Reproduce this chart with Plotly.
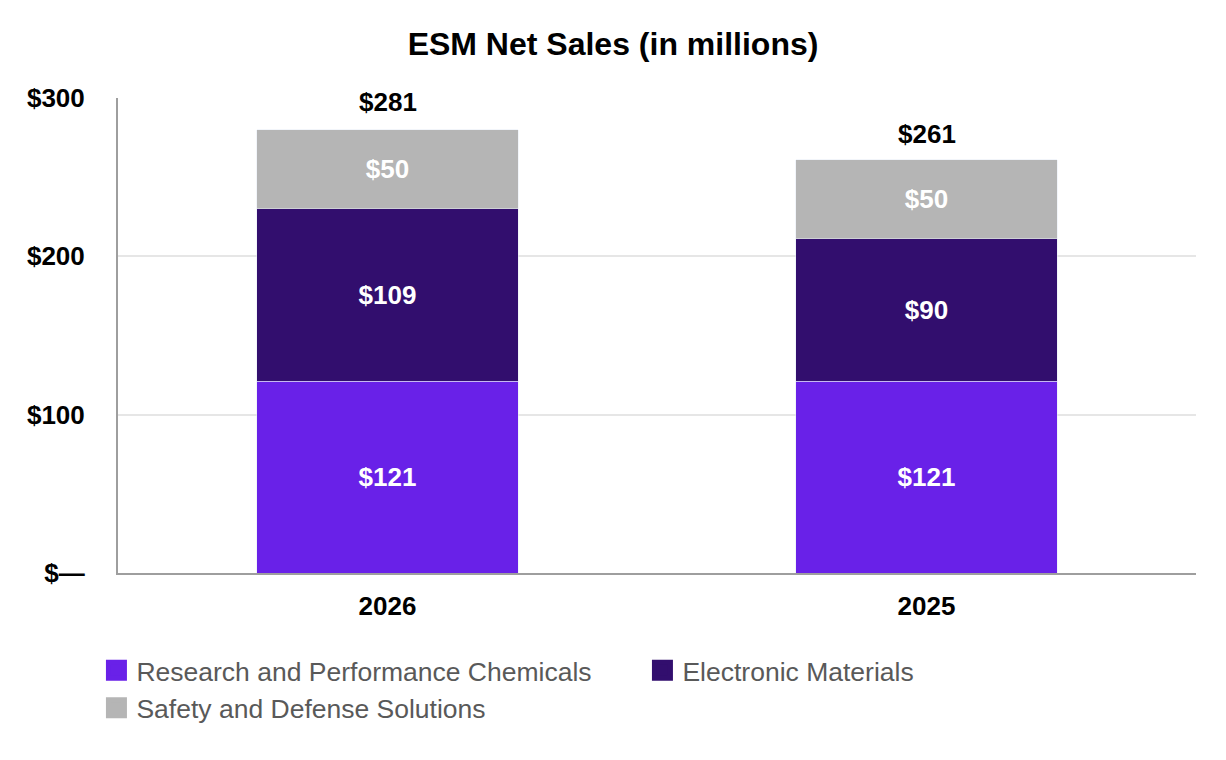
import plotly.graph_objects as go

# Data
years = ["2026", "2025"]
research_perf = [121, 121]
electronic = [109, 90]
safety_defense = [50, 50]
totals = [281, 261]

y_tickvals = [0, 100, 200, 300]
y_ticktext = ["$\u2014", "$100", "$200", "$300"]

series = [
    ("Research and Performance Chemicals", research_perf, "#6921E8"),
    ("Electronic Materials", electronic, "#320E6E"),
    ("Safety and Defense Solutions", safety_defense, "#B5B5B5"),
]

font_family = "Liberation Sans, Arial, sans-serif"

fig = go.Figure()
for name, vals, color in series:
    fig.add_trace(go.Bar(
        x=years,
        y=vals,
        name=name,
        marker_color=color,
        text=["<b>$" + str(v) + "</b>" for v in vals],
        textposition="inside",
        insidetextanchor="middle",
        textfont=dict(color="white", size=26, family=font_family),
        width=0.485,
        showlegend=False,
    ))
    # legend-only entry so the swatch can be drawn larger
    fig.add_trace(go.Scatter(
        x=[None], y=[None], mode="markers", name=name,
        marker=dict(symbol="square", size=16, color=color,
                    line=dict(color=color, width=5)),
    ))

# total labels above each stack (x given as category index so the
# numeric-looking year strings are not read as numbers)
for i, tot in enumerate(totals):
    fig.add_annotation(
        x=i, y=tot, xref="x", yref="y",
        text="<b>$" + str(tot) + "</b>", showarrow=False,
        yanchor="bottom", yshift=9,
        font=dict(size=26, color="black", family=font_family),
    )

fig.update_layout(
    barmode="stack",
    width=1226,
    height=760,
    plot_bgcolor="white",
    paper_bgcolor="white",
    margin=dict(l=118, r=30, t=98, b=187, autoexpand=False),
    title=dict(
        text="<b>ESM Net Sales (in millions)</b>",
        x=0.5, xanchor="center", y=0.942, yanchor="middle",
        font=dict(size=32, color="black", family=font_family),
    ),
    font=dict(family=font_family),
    legend=dict(
        orientation="h",
        x=-0.02, xanchor="left",
        y=-0.155, yanchor="top",
        entrywidth=501,
        itemsizing="trace",
        traceorder="normal",
        tracegroupgap=0,
        font=dict(size=26.5, color="#595959", family=font_family),
    ),
)

fig.update_xaxes(
    type="category",
    showline=True, linecolor="#9E9E9E", linewidth=2,
    tickfont=dict(size=26, color="black", family=font_family),
    tickprefix="<b>", ticksuffix="</b>",
    ticks="outside", ticklen=9, tickcolor="rgba(0,0,0,0)",
)
fig.update_yaxes(
    range=[0, 300],
    tickvals=y_tickvals, ticktext=["<b>" + t + "</b>" for t in y_ticktext],
    showline=True, linecolor="#9E9E9E", linewidth=2,
    showgrid=True, gridcolor="#E6E6E6", gridwidth=1.5,
    zeroline=False,
    tickfont=dict(size=26, color="black", family=font_family),
    ticks="outside", ticklen=26, tickcolor="rgba(0,0,0,0)",
)

fig.write_html("out.html", config={"displayModeBar": False},
               post_script="document.body.style.margin='0';")
